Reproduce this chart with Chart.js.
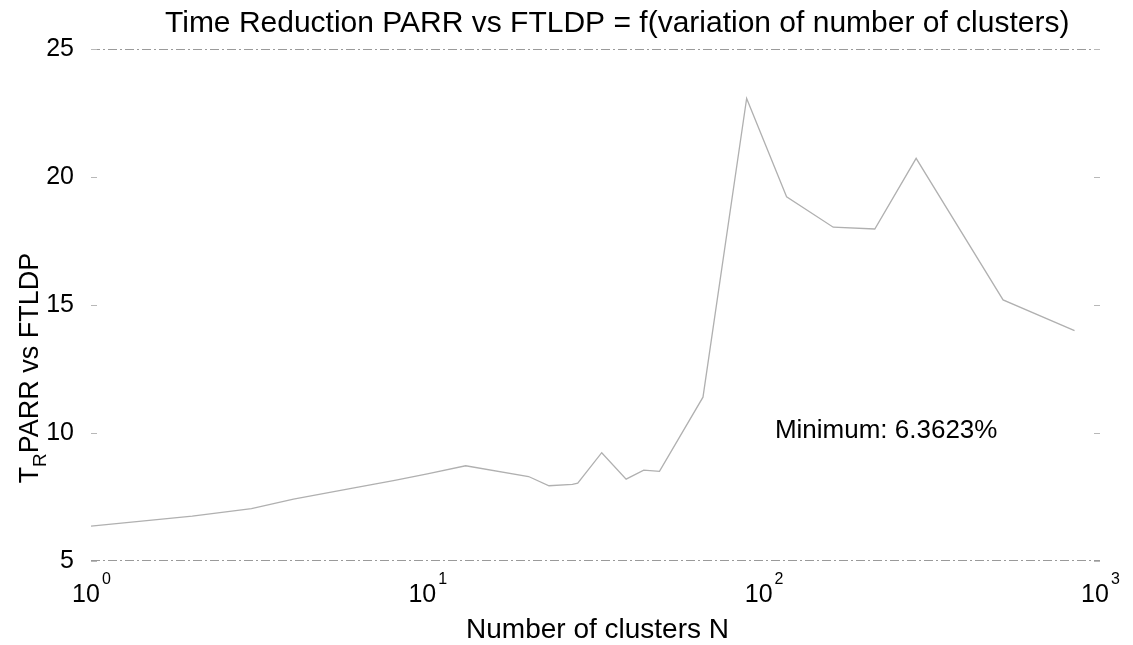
<!DOCTYPE html>
<html>
<head>
<meta charset="utf-8">
<script src="https://cdn.jsdelivr.net/npm/chart.js@4.4.1/dist/chart.umd.min.js"></script>
<style>
  html, body { margin: 0; padding: 0; background: #fff; }
  #wrap { width: 1133px; height: 645px; position: relative; }
</style>
</head>
<body>
<div id="wrap"><canvas id="reductionChart"></canvas></div>
<script>
// values
const clusters = [1, 2, 3, 4, 6, 8, 10, 13, 20, 23, 27, 28, 33, 39, 44, 49, 66, 89, 117, 161, 214, 284, 515, 840];
const reduction = [6.36, 6.75, 7.05, 7.42, 7.85, 8.15, 8.4, 8.72, 8.3, 7.94, 7.99, 8.04, 9.23, 8.2, 8.55, 8.5, 11.4, 23.07, 19.23, 18.04, 17.97, 20.73, 15.2, 14.0];
const xTickValues = [1, 10, 100, 1000];
const xTickExponents = ['0', '1', '2', '3'];
const yTickValues = [5, 10, 15, 20, 25];
const chartTitle = 'Time Reduction PARR vs FTLDP = f(variation of number of clusters)';
const xTitle = 'Number of clusters N';
const minimumNote = 'Minimum: 6.3623%';
const minimumAt = { x: 108, y: 10.1 };

const FONT = '"Liberation Sans", Arial, sans-serif';

// box, inward ticks, titles and labels drawn like the matlab figure
const figurePlugin = {
    id: 'figure',
    beforeDatasetsDraw(chart) {
        const { ctx, chartArea: a, scales } = chart;
        ctx.save();
        ctx.strokeStyle = '#9a9a9a';
        ctx.lineWidth = 1;
        ctx.setLineDash([9, 3, 2, 3]);
        ctx.beginPath();
        ctx.moveTo(a.left, a.top + 0.5); ctx.lineTo(a.right, a.top + 0.5);
        ctx.moveTo(a.left, a.bottom - 0.5); ctx.lineTo(a.right, a.bottom - 0.5);
        ctx.stroke();
        ctx.setLineDash([]);
        ctx.strokeStyle = '#b8b8b8';
        ctx.beginPath();
        yTickValues.forEach(v => {
            const y = Math.round(scales.y.getPixelForValue(v)) + 0.5;
            ctx.moveTo(a.left, y); ctx.lineTo(a.left + 6, y);
            ctx.moveTo(a.right, y); ctx.lineTo(a.right - 6, y);
        });
        ctx.stroke();
        ctx.restore();
    },
    afterDraw(chart) {
        const { ctx, chartArea: a, scales } = chart;
        const mid = (a.left + a.right) / 2;
        ctx.save();
        ctx.fillStyle = '#000';

        // title
        ctx.font = '30px ' + FONT;
        ctx.textAlign = 'left';
        ctx.textBaseline = 'alphabetic';
        ctx.fillText(chartTitle, 165, 32);

        // x tick labels 10^n
        xTickValues.forEach((v, i) => {
            const x = scales.x.getPixelForValue(v);
            ctx.font = '25px ' + FONT;
            const w = ctx.measureText('10').width;
            ctx.fillText('10', x - w / 2 - 5, 602);
            ctx.font = '16px ' + FONT;
            ctx.fillText(xTickExponents[i], x + w / 2 - 3, 584);
        });

        // x title
        ctx.font = '28px ' + FONT;
        ctx.textAlign = 'center';
        ctx.fillText(xTitle, mid + 2, 638);

        // y title with subscript R
        ctx.translate(38, 368);
        ctx.rotate(-Math.PI / 2);
        ctx.textAlign = 'left';
        ctx.font = '27px ' + FONT;
        const wT = ctx.measureText('T').width;
        const wRest = ctx.measureText('PARR vs FTLDP').width;
        ctx.font = '19px ' + FONT;
        const wR = ctx.measureText('R').width;
        let x0 = -(wT + wR + wRest) / 2;
        ctx.font = '27px ' + FONT;
        ctx.fillText('T', x0, 0);
        ctx.font = '19px ' + FONT;
        ctx.fillText('R', x0 + wT, 8);
        ctx.font = '27px ' + FONT;
        ctx.fillText('PARR vs FTLDP', x0 + wT + wR, 0);
        ctx.restore();

        // annotation
        ctx.save();
        ctx.font = '26px ' + FONT;
        ctx.textAlign = 'left';
        ctx.textBaseline = 'middle';
        ctx.fillStyle = '#000';
        ctx.fillText(minimumNote, scales.x.getPixelForValue(minimumAt.x), scales.y.getPixelForValue(minimumAt.y));
        ctx.restore();
    }
};

const ctx = document.getElementById('reductionChart').getContext('2d');
new Chart(ctx, {
    type: 'line',
    data: {
        datasets: [{
            label: 'Time reduction',
            data: clusters.map((n, i) => ({ x: n, y: reduction[i] })),
            borderColor: '#b0b0b0',
            borderWidth: 1.3,
            pointRadius: 0,
            tension: 0,
            fill: false
        }]
    },
    options: {
        responsive: true,
        maintainAspectRatio: false,
        animation: false,
        layout: { padding: { top: 49, right: 33, left: 0, bottom: 0 } },
        plugins: {
            legend: { display: false },
            tooltip: { enabled: false }
        },
        scales: {
            x: {
                type: 'logarithmic',
                min: 1,
                max: 1000,
                afterBuildTicks: scale => { scale.ticks = xTickValues.map(v => ({ value: v })); },
                afterFit: scale => { scale.height = 84; },
                ticks: { display: false },
                grid: { display: false },
                border: { display: false }
            },
            y: {
                min: 5,
                max: 25,
                afterBuildTicks: scale => { scale.ticks = yTickValues.map(v => ({ value: v })); },
                afterFit: scale => { scale.width = 91; },
                ticks: {
                    color: '#000',
                    padding: 9,
                    font: { family: FONT, size: 25 }
                },
                grid: { display: false },
                border: { display: false }
            }
        }
    },
    plugins: [figurePlugin]
});
</script>
</body>
</html>
